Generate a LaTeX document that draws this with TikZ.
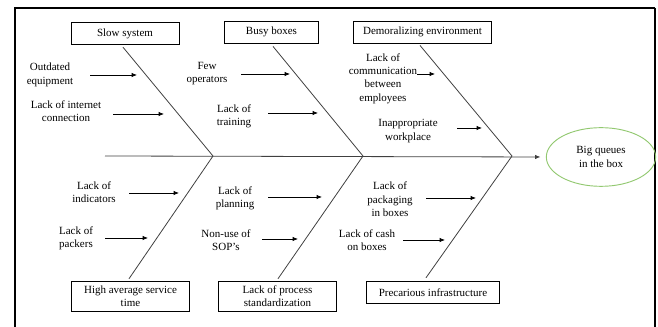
\documentclass[tikz,border=0pt]{standalone}
\usepackage{fontspec}
\setmainfont{Liberation Serif}
\usetikzlibrary{shapes.geometric,arrows.meta,calc}
\definecolor{effectgreen}{RGB}{146,200,112}

\begin{document}
\begin{tikzpicture}[x=0.75pt, y=-0.75pt,
  font=\fontsize{8.25}{10}\selectfont,
  >={Latex[length=4pt,width=3.2pt]},
  category/.style={draw, line width=0.6pt, align=center, inner sep=0pt},
  cause/.style={align=center, inner sep=0pt},
  bone/.style={draw=black!75, line width=0.6pt},
  cue/.style={->, line width=0.5pt}]
\useasboundingbox (0,0) rectangle (658,327);
% frame
\draw[line width=1.5pt] (15,340) -- (15,8) -- (655,8);
\draw[line width=0.8pt] (655,8) -- (655,340);
% effect and spine
\node[ellipse, draw=effectgreen, line width=0.7pt, minimum width=82pt, minimum height=44pt, align=center] (queues) at (601,157) {Big queues\\in the box};
\coordinate (tail) at (105,156);
\coordinate (j1) at (213,156);
\coordinate (j2) at (363,156);
\coordinate (j3) at (512,156);
\draw[bone, ->, shorten >=4pt] (tail) -- (queues.west);
% categories
\node[category, minimum width=81pt, minimum height=17pt] (slow) at (125,33.5) {Slow system};
\node[category, minimum width=70pt, minimum height=16.5pt] (busy) at (271.5,32) {Busy boxes};
\node[category, minimum width=104pt, minimum height=16.5pt] (demoral) at (422.5,32) {Demoralizing environment};
\node[category, minimum width=89pt, minimum height=23pt] (highavg) at (130.5,296.5) {High average service\\time};
\node[category, minimum width=88pt, minimum height=23pt] (process) at (277.5,296.5) {Lack of process\\standardization};
\node[category, minimum width=100pt, minimum height=17pt] (infra) at (433,292.5) {Precarious infrastructure};
% bones
\draw[bone] ($(slow.south)+(-2,2)$) -- (j1);
\draw[bone] ($(busy.south)+(1.5,3)$) -- (j2);
\draw[bone] ($(demoral.south)+(-2.5,2)$) -- (j3);
\draw[bone] ($(highavg.north)+(-1.5,-2)$) -- (j1);
\draw[bone] ($(process.north)+(0.5,-2)$) -- (j2);
\draw[bone] ($(infra.north)+(-7,-3)$) -- (j3);
% causes of slow system
\node[cause] (outdated) at (50,75) {Outdated\\equipment};
\node[cause] (internet) at (66,111.5) {Lack of internet\\connection};
\coordinate (outdated-s) at (90,75);   \coordinate (outdated-e) at (137,75);
\coordinate (internet-s) at (113,114); \coordinate (internet-e) at (164,114);
\draw[cue] (outdated-s) -- (outdated-e);
\draw[cue] (internet-s) -- (internet-e);
% causes of busy boxes
\node[cause] (operators) at (207,73.5) {Few\\operators};
\node[cause] (training) at (234,116) {Lack of\\training};
\coordinate (operators-s) at (241,74); \coordinate (operators-e) at (290,74);
\coordinate (training-s) at (268,113); \coordinate (training-e) at (318,113);
\draw[cue] (operators-s) -- (operators-e);
\draw[cue] (training-s) -- (training-e);
% causes of demoralizing environment
\node[cause] (communic) at (383,78.5) {Lack of\\communication\\between\\employees};
\node[cause] (workplace) at (408,131) {Inappropriate\\workplace};
\coordinate (communic-s) at (417,74);  \coordinate (communic-e) at (435,74);
\coordinate (workplace-s) at (457,128); \coordinate (workplace-e) at (482,128);
\draw[cue] (communic-s) -- (communic-e);
\draw[cue] (workplace-s) -- (workplace-e);
% causes of high average service time
\node[cause] (indicators) at (94,192.5) {Lack of\\indicators};
\node[cause] (packers) at (76,238) {Lack of\\packers};
\coordinate (indicators-s) at (129,193); \coordinate (indicators-e) at (179,193);
\coordinate (packers-s) at (105,238);    \coordinate (packers-e) at (148,238);
\draw[cue] (indicators-s) -- (indicators-e);
\draw[cue] (packers-s) -- (packers-e);
% causes of lack of process standardization
\node[cause] (planning) at (235,198.5) {Lack of\\planning};
\node[cause] (sops) at (226,240) {Non-use of\\SOP's};
\coordinate (planning-s) at (268,197); \coordinate (planning-e) at (322,197);
\coordinate (sops-s) at (262,239);     \coordinate (sops-e) at (298,239);
\draw[cue] (planning-s) -- (planning-e);
\draw[cue] (sops-s) -- (sops-e);
% causes of precarious infrastructure
\node[cause] (packaging) at (390,199.5) {Lack of\\packaging\\in boxes};
\node[cause] (cash) at (367,240) {Lack of cash\\on boxes};
\coordinate (packaging-s) at (426,198); \coordinate (packaging-e) at (476,198);
\coordinate (cash-s) at (403,240);      \coordinate (cash-e) at (445,240);
\draw[cue] (packaging-s) -- (packaging-e);
\draw[cue] (cash-s) -- (cash-e);
\end{tikzpicture}
\end{document}
